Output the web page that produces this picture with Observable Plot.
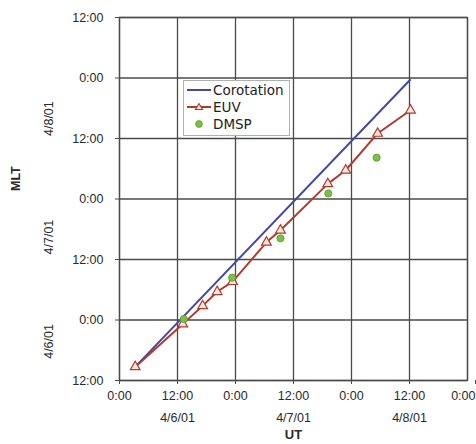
<!DOCTYPE html>
<html><head><meta charset="utf-8">
<script src="https://cdn.jsdelivr.net/npm/d3@7"></script>
<script src="https://cdn.jsdelivr.net/npm/@observablehq/plot@0.6"></script>
<style>
body{margin:0;background:#fff;}
#wrap{position:relative;width:476px;height:444px;overflow:hidden;}
#legend{position:absolute;left:183px;top:80px;width:107px;height:56px;border:1px solid #b0b0b0;background:#fff;font-family:"DejaVu Sans",sans-serif;font-size:13.5px;color:#222;box-sizing:border-box;}
.row{position:absolute;left:3px;height:16px;display:flex;align-items:center;white-space:nowrap;}
.row svg{margin-right:2px;}
</style></head><body><div id="wrap"></div>
<script>
// UT hours from 4/6/01 0:00 ; MLT hours from 4/6/01 12:00
const corotUT = [3.25, 60.1];
const corotMLT = [2.7, 59.6];
const euvUT  = [3.25, 13.1, 17.2, 20.2, 23.4, 30.4, 33.3, 43.1, 46.8, 53.4, 60.2];
const euvMLT = [2.7, 11.2, 14.8, 17.6, 19.6, 27.4, 29.8, 39.0, 41.7, 49.0, 53.6];
const dmspUT  = [13.3, 23.3, 33.3, 43.2, 53.2];
const dmspMLT = [12.2, 20.4, 28.2, 37.1, 44.2];

const xTicks = [0, 12, 24, 36, 48, 60, 72];
const xTickLabels = ["0:00", "12:00", "0:00", "12:00", "0:00", "12:00", "0:00"];
const yTicks = [0, 12, 24, 36, 48, 60, 72];
const yTickLabels = ["12:00", "0:00", "12:00", "0:00", "12:00", "0:00", "12:00"];
const xDates = [12, 36, 60];
const xDateLabels = ["4/6/01", "4/7/01", "4/8/01"];
const yDates = [4.3, 25, 48.5];
const yDateLabels = ["4/6/01", "4/7/01", "4/8/01"];
const seriesNames = ["Corotation", "EUV", "DMSP"];
const xTitle = "UT", yTitle = "MLT";

const colors = {Corotation: "#4447a6", EUV: "#b23a2c", DMSP: "#7dbf45"};

const corot = corotUT.map((x, i) => ({x, y: corotMLT[i]}));
const euv = euvUT.map((x, i) => ({x, y: euvMLT[i]}));
const dmsp = dmspUT.map((x, i) => ({x, y: dmspMLT[i]}));

const lastX = xTicks[xTicks.length - 1];
const fmtX = d => xTickLabels[xTicks.indexOf(d)];
const gridColor = "#4a4a4a";
const chart = Plot.plot({
  width: 476, height: 444,
  marginLeft: 119, marginRight: 9, marginTop: 17, marginBottom: 64,
  style: {fontFamily: "'Liberation Sans', Arial, sans-serif", fontSize: "12.5px", color: "#2a2a2a", background: "#fff"},
  x: {domain: [0, 72]},
  y: {domain: [0, 72]},
  marks: [
    Plot.gridX(xTicks, {stroke: gridColor, strokeOpacity: 1, strokeWidth: 1.3}),
    Plot.gridY(yTicks, {stroke: gridColor, strokeOpacity: 1, strokeWidth: 1.3}),
    Plot.frame({stroke: gridColor, strokeWidth: 1.3}),
    Plot.axisX(xTicks.filter(d => d !== lastX), {tickFormat: fmtX, tickSize: 4, tickPadding: 7, stroke: gridColor, label: null}),
    Plot.axisX([lastX], {tickFormat: fmtX, tickSize: 4, tickPadding: 7, stroke: gridColor, textAnchor: "end", dx: 8, label: null}),
    Plot.axisX(xDates, {tickFormat: d => xDateLabels[xDates.indexOf(d)], tickSize: 0, tickPadding: 33, label: null}),
    Plot.axisY(yTicks, {tickFormat: d => yTickLabels[yTicks.indexOf(d)], tickSize: 4, tickPadding: 12, stroke: gridColor, label: null}),
    Plot.text(yDates, {y: d => d, text: (d, i) => yDateLabels[i], frameAnchor: "left", dx: -71, rotate: -90, fontSize: 12.5}),
    Plot.text([yTitle], {text: d => d, frameAnchor: "left", dx: -104, dy: -8, rotate: -90, fontWeight: "bold", fontSize: 12.5}),
    Plot.text([xTitle], {text: d => d, frameAnchor: "bottom", dy: 58, fontWeight: "bold", fontSize: 13}),
    Plot.line(corot, {x: "x", y: "y", stroke: colors.Corotation, strokeWidth: 2}),
    Plot.line(euv, {x: "x", y: "y", stroke: colors.EUV, strokeWidth: 2}),
    Plot.dot(euv, {x: "x", y: "y", symbol: "triangle", r: 3.6, fill: "#fbe9e2", stroke: colors.EUV, strokeWidth: 1.2}),
    Plot.dot(dmsp, {x: "x", y: "y", r: 3.6, fill: colors.DMSP, stroke: "#5d9a34", strokeWidth: 0.8})
  ]
});
const wrap = document.getElementById("wrap");
wrap.appendChild(chart);

// legend
const legend = document.createElement("div");
legend.id = "legend";
const sym = {
  Corotation: `<svg width="24" height="10"><line x1="0" y1="5" x2="24" y2="5" stroke="${colors.Corotation}" stroke-width="2"/></svg>`,
  EUV: `<svg width="24" height="10"><line x1="0" y1="5" x2="24" y2="5" stroke="${colors.EUV}" stroke-width="2"/><path d="M12,1.5L15.5,7.5L8.5,7.5Z" fill="#fbe9e2" stroke="${colors.EUV}" stroke-width="1.1"/></svg>`,
  DMSP: `<svg width="24" height="10"><circle cx="12" cy="5" r="3.4" fill="${colors.DMSP}" stroke="#5d9a34" stroke-width="0.8"/></svg>`
};
seriesNames.forEach((name, i) => {
  const row = document.createElement("div");
  row.className = "row";
  row.style.top = (1 + i * 17) + "px";
  row.innerHTML = sym[name] + `<span>${name}</span>`;
  legend.appendChild(row);
});
wrap.appendChild(legend);
</script>
</body></html>
